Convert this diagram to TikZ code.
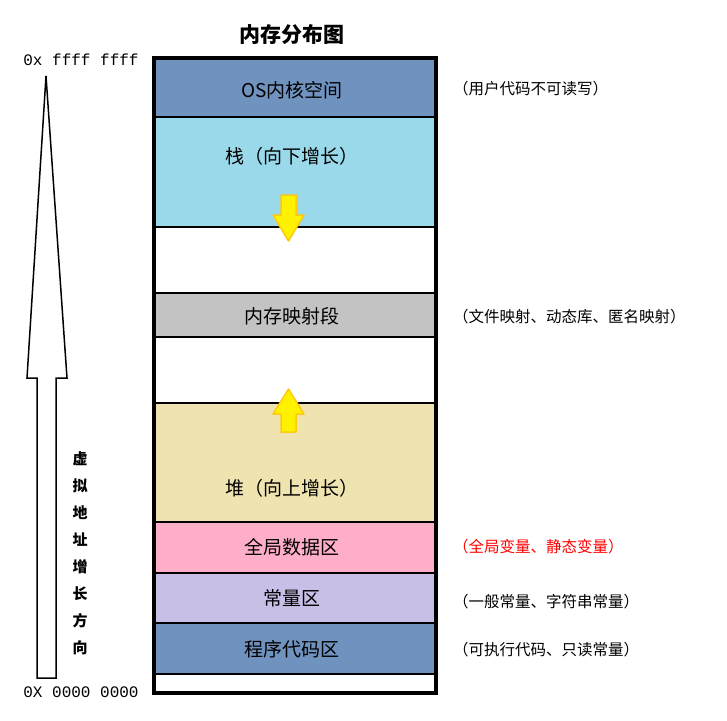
\documentclass[tikz,border=0pt]{standalone}
\usepackage{fontspec}
\setmainfont{Liberation Serif}
\setmonofont{Liberation Mono}
\newfontfamily\cjk{Noto Sans CJK SC}
\definecolor{oscol}{HTML}{7092BE}
\definecolor{stackcol}{HTML}{99D9EA}
\definecolor{mmapcol}{HTML}{C3C3C3}
\definecolor{heapcol}{HTML}{EFE4B0}
\definecolor{globcol}{HTML}{FFAEC9}
\definecolor{constcol}{HTML}{C8BFE7}
\definecolor{arrowfill}{HTML}{FFF200}
\definecolor{arrowline}{HTML}{FFC90E}
\tikzset{%
	seg/.style={draw,line width=2.5pt},
	segtext/.style={font=\cjk\fontsize{19}{21}\selectfont},
	note/.style={anchor=west,inner sep=0pt,font=\cjk\fontsize{15.5}{18}\selectfont},
	growarrow/.style={fill=arrowfill,draw=arrowline,line width=1.5pt,line join=round},
}
\begin{document}
\begin{tikzpicture}[x=1pt,y=-1pt]
	\useasboundingbox (0,0) rectangle (727,720);
	
	%title
	\node[font=\cjk\bfseries\fontsize{21}{24}\selectfont] (title) at (292,35) {内存分布图};
	
	%segments
	\filldraw[seg,fill=oscol] (154,58) rectangle (436,117);
	\filldraw[seg,fill=stackcol] (154,117) rectangle (436,227);
	\draw[seg] (154,227) rectangle (436,293);
	\filldraw[seg,fill=mmapcol] (154,293) rectangle (436,337);
	\draw[seg] (154,337) rectangle (436,403);
	\filldraw[seg,fill=heapcol] (154,403) rectangle (436,522);
	\filldraw[seg,fill=globcol] (154,522) rectangle (436,573);
	\filldraw[seg,fill=constcol] (154,573) rectangle (436,623);
	\filldraw[seg,fill=oscol] (154,623) rectangle (436,674);
	\draw[line width=4pt] (154,58) rectangle (436,693);
	
	\node[segtext] (os) at (292,90) {OS内核空间};
	\node[segtext] (stack) at (292,156) {栈（向下增长）};
	\node[segtext] (mmap) at (292,316) {内存映射段};
	\node[segtext] (heap) at (292,488) {堆（向上增长）};
	\node[segtext] (glob) at (292,547) {全局数据区};
	\node[segtext] (const) at (292,598) {常量区};
	\node[segtext] (code) at (292,649) {程序代码区};
	
	%growth arrows
	\draw[growarrow] (281,195) -- (296,195) -- (296,215) -- (304,215) -- (288.5,241) -- (273,215) -- (281,215) -- cycle;
	\draw[growarrow] (281,432) -- (296,432) -- (296,414) -- (304,414) -- (288.5,389) -- (273,414) -- (281,414) -- cycle;
	
	%notes
	\node[note] (n1) at (453,89) {（用户代码不可读写）};
	\node[note] (n2) at (453,317) {（文件映射、动态库、匿名映射）};
	\node[note,text=red] (n3) at (453,547) {（全局变量、静态变量）};
	\node[note] (n4) at (453,602) {（一般常量、字符串常量）};
	\node[note] (n5) at (453,650) {（可执行代码、只读常量）};
	
	%address direction
	\draw[line width=1.5pt] (37,678) -- (37,378) -- (27,378) -- (46,76) -- (67,378) -- (56,378) -- (56,678) -- cycle;
	\node[font=\ttfamily\fontsize{16}{18}\selectfont] (top) at (81,60) {0x ffff ffff};
	\node[font=\ttfamily\fontsize{16}{18}\selectfont] (bot) at (81,692) {0X 0000 0000};
	\node[font=\cjk\bfseries\fontsize{15}{27}\selectfont,align=center,text width=16pt] (dir) at (80,553) {虚\\拟\\地\\址\\增\\长\\方\\向};
\end{tikzpicture}
\end{document}
